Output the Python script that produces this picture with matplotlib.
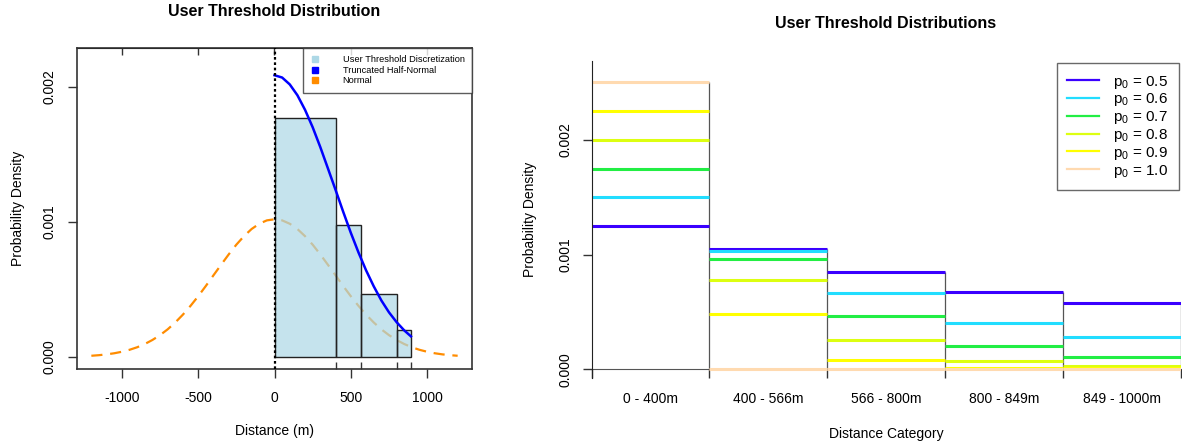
import numpy as np
import matplotlib
matplotlib.use("Agg")
import matplotlib.pyplot as plt
from matplotlib.lines import Line2D

plt.rcParams['font.family'] = ['Liberation Sans', 'DejaVu Sans']
plt.rcParams['axes.unicode_minus'] = False

# left panel: discretized bins
bin_edges = [0, 400, 566, 800, 894]
bin_density = [0.001773, 0.000978, 0.000469, 0.000202]

# normal curve (read every 50 m, symmetric around 0)
normal_x = [-1200, -1150, -1100, -1050, -1000, -950, -900, -850, -800, -750, -700, -650,
            -600, -550, -500, -450, -400, -350, -300, -250, -200, -150, -100, -50,
            0, 50, 100, 150, 200, 250, 300, 350, 400, 450, 500, 550, 600, 650, 700,
            750, 800, 850, 900, 950, 1000, 1050, 1100, 1150, 1200]
normal_half = [0.001020, 0.001012, 0.000987, 0.000948, 0.000895, 0.000832, 0.000760,
               0.000683, 0.000605, 0.000526, 0.000450, 0.000379, 0.000314, 0.000256,
               0.000205, 0.000162, 0.000126, 0.0000961, 0.0000721, 0.0000533,
               0.0000388, 0.0000277, 0.0000195, 0.0000135, 0.0000092]
normal_y = normal_half[:0:-1] + normal_half

# truncated half-normal curve
thn_x = [0, 50, 100, 150, 200, 250, 300, 350, 400, 450, 500, 550, 600, 650, 700,
         750, 800, 850, 894]
thn_y = [0.002087, 0.002070, 0.002019, 0.001939, 0.001831, 0.001702, 0.001555,
         0.001397, 0.001238, 0.001076, 0.000920, 0.000775, 0.000642, 0.000524,
         0.000419, 0.000331, 0.000258, 0.000197, 0.000153]

# right panel: density per category for each p0
categories = ["0 - 400m", "400 - 566m", "566 - 800m", "800 - 849m", "849 - 1000m"]
p0_labels = ["0.5", "0.6", "0.7", "0.8", "0.9", "1.0"]
dens_p05 = [0.00125, 0.00105, 0.000849, 0.000675, 0.000574]
dens_p06 = [0.00150, 0.00103, 0.000666, 0.000405, 0.000284]
dens_p07 = [0.00175, 0.00096, 0.000461, 0.000200, 0.000110]
dens_p08 = [0.00200, 0.00078, 0.000255, 0.000068, 0.000030]
dens_p09 = [0.00225, 0.00048, 0.000078, 0.000012, 0.000008]
dens_p10 = [0.00250, 0.0, 0.0, 0.0, 0.0]
p0_colors = ["#3A00FF", "#22DDFF", "#22EE44", "#DDFF11", "#FFFF00", "#FFDAB0"]

fig = plt.figure(figsize=(11.82, 4.44), dpi=100)
W, H = 1182, 444

def px_axes(x0, y0, x1, y1):
    return fig.add_axes([x0 / W, 1 - y1 / H, (x1 - x0) / W, (y1 - y0) / H])

# ---------------- left panel ----------------
ax1 = px_axes(77, 47.7, 472, 369)
ax1.plot(normal_x, normal_y, color="#FF8C00", lw=1.6, dashes=(5, 3.5), zorder=1)
ax1.bar(bin_edges[:-1], bin_density, width=np.diff(bin_edges), align="edge",
        color="#ADD8E6", alpha=0.7, linewidth=0, zorder=2)
ax1.bar(bin_edges[:-1], bin_density, width=np.diff(bin_edges), align="edge",
        fill=False, edgecolor="#222222", linewidth=1.0, zorder=2)
ax1.plot(thn_x, thn_y, color="#0000FF", lw=1.8, zorder=3)
ax1.axvline(0, color="black", lw=1.6, dashes=(1.2, 1.2), zorder=4)

ax1.set_xlim(-1294, 1294)
ax1.set_ylim(-0.0000889, 0.002291)
ax1.set_xticks([-1000, -500, 0, 500, 1000])
ax1.set_xticks(bin_edges[1:], minor=True)
ax1.set_yticks([0, 0.001, 0.002], ["0.000", "0.001", "0.002"])
plt.setp(ax1.get_yticklabels(), rotation=90, va="center")
ax1.tick_params(axis="both", which="major", length=6.5, width=1.0, labelsize=10,
                color="#333333", pad=9)
ax1.tick_params(axis="x", which="minor", direction="in", length=5, width=1.0,
                color="#333333")
ax1.tick_params(axis="y", pad=8)
top = ax1.secondary_xaxis("top")
top.set_xticks([-1000, -500, 0, 500, 1000])
top.tick_params(direction="in", length=5, width=1.0, color="#333333", labeltop=False)
for s in ax1.spines.values():
    s.set_color("#333333")
    s.set_linewidth(1.2)
ax1.set_xlabel("Distance (m)", fontsize=10, labelpad=14)
ax1.set_ylabel("Probability Density", fontsize=10, labelpad=13)

h1 = [Line2D([], [], ls="none", marker="s", markersize=3.8, color="#ADD8E6"),
      Line2D([], [], ls="none", marker="s", markersize=3.8, color="#0000FF"),
      Line2D([], [], ls="none", marker="s", markersize=3.8, color="#FF8C00")]
leg1 = ax1.legend(h1, ["User Threshold Discretization", "Truncated Half-Normal", "Normal"],
                  loc="upper right", fontsize=6.7, frameon=True, fancybox=False,
                  borderaxespad=0, handlelength=1.1, handletextpad=2.4,
                  labelspacing=0.18, borderpad=0.8)
leg1.get_frame().set_edgecolor("#333333")
leg1.get_frame().set_linewidth(1.0)

fig.text(274.5 / W, 1 - 12 / H, "User Threshold Distribution", ha="center",
         va="center", fontsize=11.5, fontweight="bold")

# ---------------- right panel ----------------
ax2 = px_axes(591.5, 60.7, 1181, 378)
series = [dens_p05, dens_p06, dens_p07, dens_p08, dens_p09, dens_p10]
cat_left = np.arange(len(categories))
cat_max = np.max(np.array(series), axis=0)
ax2.vlines(cat_left + 1, 0, cat_max, color="#555555", lw=0.9, zorder=1)
for vals, col in zip(series, p0_colors):
    ax2.hlines(vals, cat_left, cat_left + 1, color=col, lw=2.2, zorder=2)

ax2.set_xlim(0, 5)
ax2.set_ylim(-0.0000759, 0.00269)
ax2.spines["top"].set_visible(False)
ax2.spines["right"].set_visible(False)
ax2.spines["bottom"].set_position(("data", 0))
ax2.spines["bottom"].set_color("#555555")
ax2.spines["left"].set_color("#222222")
ax2.spines["bottom"].set_zorder(0)
ax2.set_xticks(np.arange(6), [""] * 6)
ax2.set_xticks(cat_left + 0.5, categories, minor=True)
ax2.tick_params(axis="x", which="major", length=6.5, width=1.0, color="#333333")
ax2.tick_params(axis="x", which="minor", length=0, pad=16, labelsize=10)
ax2.set_yticks([0, 0.001, 0.002], ["0.000", "0.001", "0.002"])
plt.setp(ax2.get_yticklabels(), rotation=90, va="center")
ax2.tick_params(axis="y", length=6.5, width=1.0, color="#333333", labelsize=10, pad=7)
ax2.set_ylabel("Probability Density", fontsize=10, labelpad=16)
ax2.set_xlabel("Distance Category", fontsize=10)
ax2.xaxis.set_label_coords(0.5, -0.155)

h2 = [Line2D([], [], color=c, lw=1.6) for c in p0_colors]
leg2 = ax2.legend(h2, ["$\\mathregular{p_0}$ = " + p for p in p0_labels],
                  loc="upper right", fontsize=11, frameon=True, fancybox=False,
                  borderaxespad=0.15, handlelength=2.1, handletextpad=0.9,
                  labelspacing=0.05, borderpad=0.7)
leg2.get_frame().set_edgecolor("#444444")
leg2.get_frame().set_linewidth(1.0)

fig.text(886 / W, 1 - 24 / H, "User Threshold Distributions", ha="center",
         va="center", fontsize=11.5, fontweight="bold")

fig.savefig("out.png", dpi=100)
